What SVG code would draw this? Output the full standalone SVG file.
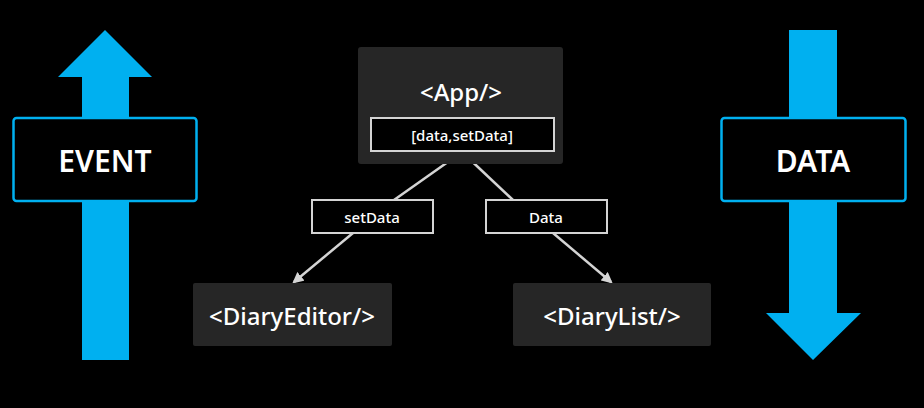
<svg xmlns="http://www.w3.org/2000/svg" width="924" height="408" viewBox="0 0 924 408">
<style>
.blue{fill:#00b0f0}
.flow{fill:#000;stroke:#00b0f0;stroke-width:2.5}
.comp{fill:#262626}
.lbl{fill:#000;stroke:#d4d4d4;stroke-width:2}
.t{font-family:"Noto Sans","Open Sans","DejaVu Sans",sans-serif;fill:#fff;text-anchor:middle;dominant-baseline:central}
.big{font-size:30px;font-weight:600}
.mid{font-size:24px;font-weight:500}
.sm{font-size:15px;font-weight:500}
.conn{stroke:#d4d4d4;stroke-width:2.5;fill:none}
</style>
<defs>
<marker id="ah" viewBox="0 0 10 10" refX="8" refY="5" markerWidth="4.5" markerHeight="4.5" orient="auto" markerUnits="strokeWidth">
<path d="M0,0 L10,5 L0,10 z" fill="#d4d4d4"/>
</marker>
</defs>
<rect width="924" height="408" fill="#000"/>
<g id="event">
<polygon class="blue" points="105,30 152,77 129,77 129,360 82,360 82,77 58,77"/>
<rect class="flow" x="13.5" y="118" width="183" height="83" rx="3"/>
<text class="t big" x="105" y="160">EVENT</text>
</g>
<g id="data">
<polygon class="blue" points="789,30 837,30 837,313 861,313 813,360 766,313 789,313"/>
<rect class="flow" x="721.5" y="118" width="184" height="83" rx="3"/>
<text class="t big" x="813" y="160">DATA</text>
</g>
<g id="connectors">
<line class="conn" x1="462" y1="152" x2="394" y2="200"/>
<line class="conn" x1="353" y1="233" x2="294" y2="282" marker-end="url(#ah)"/>
<line class="conn" x1="462" y1="152" x2="513" y2="200"/>
<line class="conn" x1="553" y1="233" x2="611" y2="282" marker-end="url(#ah)"/>
</g>
<g id="app">
<rect class="comp" x="358" y="47" width="205" height="117" rx="3"/>
<text class="t mid" x="461" y="91">&lt;App/&gt;</text>
<rect class="lbl" x="371" y="118" width="183" height="33"/>
<text class="t sm" x="462" y="135">[data,setData]</text>
</g>
<g id="label-setdata">
<rect class="lbl" x="312" y="200" width="121" height="33"/>
<text class="t sm" x="372" y="217">setData</text>
</g>
<g id="label-data">
<rect class="lbl" x="486" y="200" width="121" height="33"/>
<text class="t sm" x="546" y="217">Data</text>
</g>
<g id="diaryeditor">
<rect class="comp" x="193" y="283" width="199" height="63" rx="2"/>
<text class="t mid" x="292" y="315">&lt;DiaryEditor/&gt;</text>
</g>
<g id="diarylist">
<rect class="comp" x="513" y="283" width="198" height="63" rx="2"/>
<text class="t mid" x="612" y="315">&lt;DiaryList/&gt;</text>
</g>
</svg>
